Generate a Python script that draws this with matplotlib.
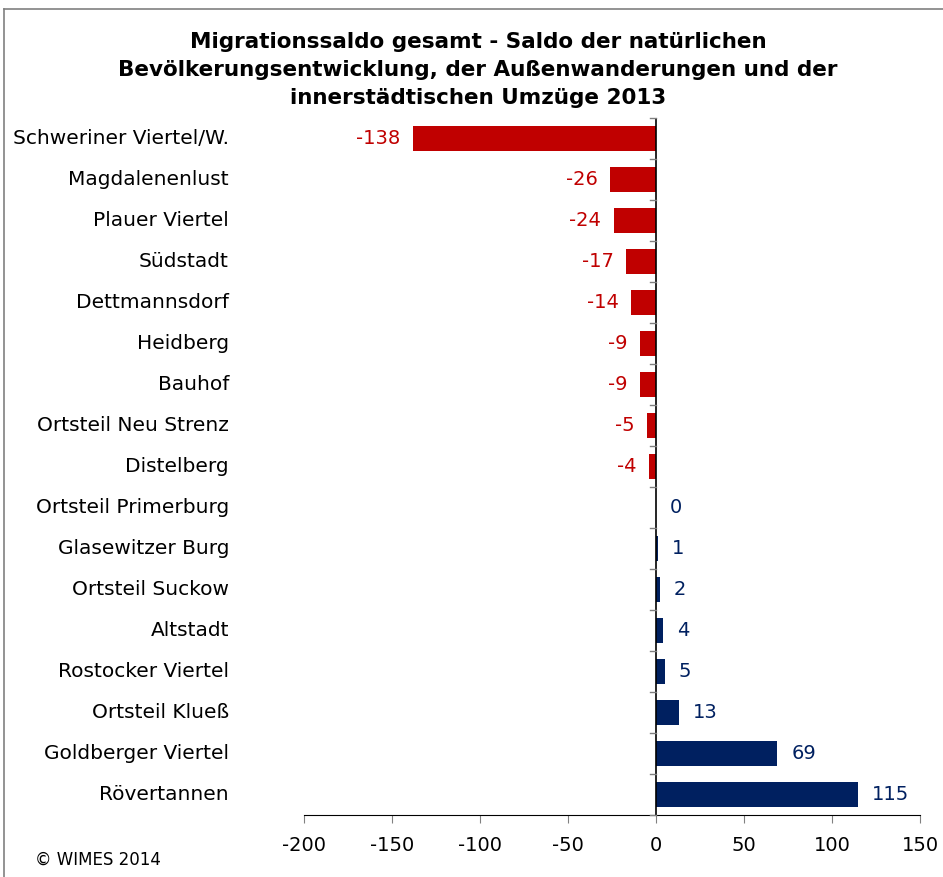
import matplotlib.pyplot as plt
import matplotlib.transforms as mtransforms

districts = ['Schweriner Viertel/W.', 'Magdalenenlust', 'Plauer Viertel', 'Südstadt',
             'Dettmannsdorf', 'Heidberg', 'Bauhof', 'Ortsteil Neu Strenz', 'Distelberg',
             'Ortsteil Primerburg', 'Glasewitzer Burg', 'Ortsteil Suckow', 'Altstadt',
             'Rostocker Viertel', 'Ortsteil Klueß', 'Goldberger Viertel', 'Rövertannen']
saldo = [-138, -26, -24, -17, -14, -9, -9, -5, -4, 0, 1, 2, 4, 5, 13, 69, 115]
xticks = [-200, -150, -100, -50, 0, 50, 100, 150]

red = '#C00000'
navy = '#002060'

plt.rcParams['font.family'] = ['DejaVu Sans']

fig = plt.figure(figsize=(9.43, 8.77), dpi=100)
ax = fig.add_axes([0.3224, 0.0707, 0.6532, 0.7948])

n = len(districts)
ypos = list(range(n))[::-1]
colors = [red if v < 0 else navy for v in saldo]
ax.barh(ypos, saldo, height=0.63, color=colors, zorder=2)

ax.set_xlim(-200, 150)
ax.set_ylim(-0.5, n - 0.5)
ax.set_xticks(xticks)
ax.set_xticklabels([str(t) for t in xticks], fontsize=14)
ax.tick_params(axis='x', direction='out', length=6, color='#808080', pad=9)

# value labels
for y, v, c in zip(ypos, saldo, colors):
    if v < 0:
        ax.annotate(str(v), (v, y), xytext=(-9, 0), textcoords='offset points',
                    ha='right', va='center', color=c, fontsize=14)
    else:
        ax.annotate(str(v), (v, y), xytext=(10, 0), textcoords='offset points',
                    ha='left', va='center', color=c, fontsize=14)

# category labels, right aligned far left of the axis
trans = mtransforms.blended_transform_factory(fig.transFigure, ax.transData)
for y, name in zip(ypos, districts):
    ax.text(229 / 943, y, name, transform=trans, ha='right', va='center', fontsize=14.5)

ax.set_yticks([])
for s in ['top', 'right', 'left']:
    ax.spines[s].set_visible(False)
ax.spines['bottom'].set_color('black')

# zero line with category boundary ticks
ax.axvline(0, color='black', lw=1.2, zorder=3)
for b in range(n + 1):
    ax.plot([-3.5, 0], [b - 0.5, b - 0.5], color='#808080', lw=1, clip_on=False, zorder=3)

fig.text(478 / 943, 1 - 32 / 877,
         'Migrationssaldo gesamt - Saldo der natürlichen\n'
         'Bevölkerungsentwicklung, der Außenwanderungen und der\n'
         'innerstädtischen Umzüge 2013',
         ha='center', va='top', fontsize=15.5, fontweight='bold', linespacing=1.5)

fig.text(35 / 943, 1 - 860 / 877, '© WIMES 2014', ha='left', va='center', fontsize=12)

# frame around chart
fig.add_artist(plt.Line2D([4 / 943, 4 / 943], [0, 1 - 9 / 877], color='#808080', lw=1.2))
fig.add_artist(plt.Line2D([4 / 943, 1], [1 - 9 / 877, 1 - 9 / 877], color='#808080', lw=1.2))

fig.savefig('out.png', dpi=100)
